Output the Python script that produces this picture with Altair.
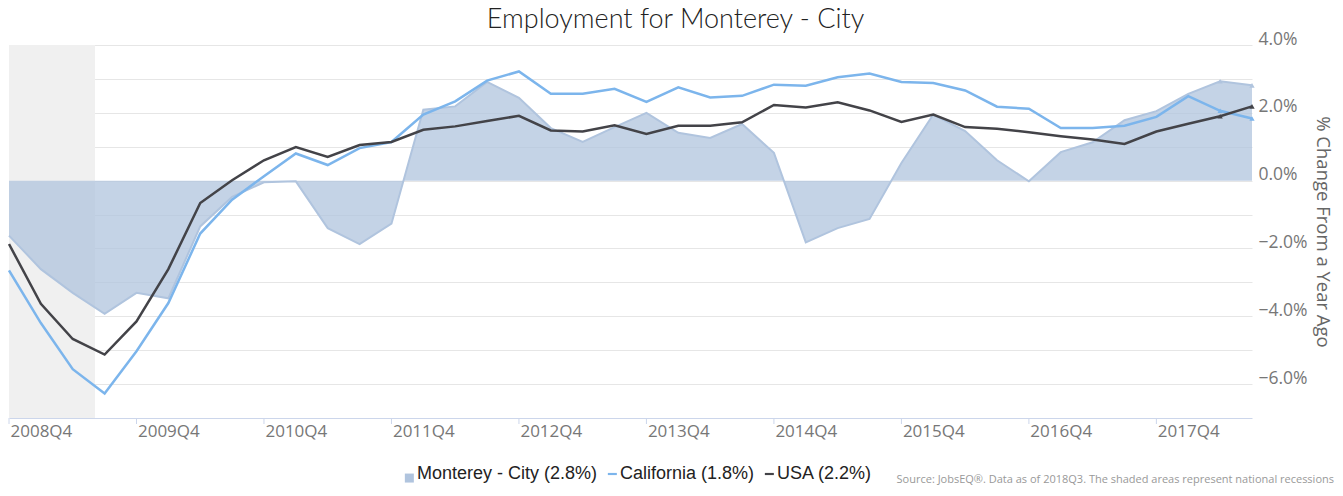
import altair as alt
import pandas as pd

# ---------------- data ----------------
quarters = [
    "2008Q3", "2008Q4", "2009Q1", "2009Q2", "2009Q3", "2009Q4", "2010Q1", "2010Q2",
    "2010Q3", "2010Q4", "2011Q1", "2011Q2", "2011Q3", "2011Q4", "2012Q1", "2012Q2",
    "2012Q3", "2012Q4", "2013Q1", "2013Q2", "2013Q3", "2013Q4", "2014Q1", "2014Q2",
    "2014Q3", "2014Q4", "2015Q1", "2015Q2", "2015Q3", "2015Q4", "2016Q1", "2016Q2",
    "2016Q3", "2016Q4", "2017Q1", "2017Q2", "2017Q3", "2017Q4", "2018Q1", "2018Q2",
]

monterey = [
    -1.62, -2.61, -3.31, -3.93, -3.31, -3.47, -1.35, -0.48, -0.05, -0.02,
    -1.40, -1.87, -1.27, 2.09, 2.19, 2.91, 2.44, 1.55, 1.14, 1.58,
    2.00, 1.41, 1.26, 1.67, 0.82, -1.82, -1.40, -1.13, 0.52, 1.95,
    1.46, 0.60, -0.02, 0.84, 1.13, 1.78, 2.05, 2.56, 2.93, 2.81,
]
california = [
    -2.65, -4.20, -5.56, -6.28, -5.03, -3.61, -1.56, -0.56, 0.13, 0.80,
    0.46, 0.96, 1.14, 1.95, 2.34, 2.95, 3.22, 2.56, 2.56, 2.71,
    2.32, 2.75, 2.45, 2.50, 2.83, 2.80, 3.05, 3.16, 2.91, 2.88,
    2.66, 2.18, 2.12, 1.55, 1.55, 1.62, 1.88, 2.49, 2.06, 1.83,
]
usa = [
    -1.87, -3.63, -4.67, -5.13, -4.15, -2.61, -0.66, 0.01, 0.60, 0.99,
    0.70, 1.05, 1.14, 1.50, 1.60, 1.76, 1.91, 1.48, 1.45, 1.63,
    1.38, 1.62, 1.62, 1.72, 2.23, 2.16, 2.31, 2.07, 1.73, 1.95,
    1.58, 1.53, 1.43, 1.31, 1.21, 1.08, 1.45, 1.68, 1.90, 2.19,
]

series_names = ["Monterey - City", "California", "USA"]
series_colors = ["#B0C4DE", "#7CB5EC", "#434348"]
recession = {"start": [0.0], "end": [2.7]}   # in quarter-index units
title_text = "Employment for Monterey - City"
y_title = "% Change From a Year Ago"
source_text = "Source: JobsEQ\u00ae. Data as of 2018Q3. The shaded areas represent national recessions"

# ---------------- build tables ----------------
labels = [f"{n} ({v[-1]:.1f}%)" for n, v in zip(series_names, [monterey, california, usa])]
rows = []
for lab, vals in zip(labels, [monterey, california, usa]):
    for i, v in enumerate(vals):
        rows.append({"idx": i, "q": quarters[i], "series": lab, "value": v})
df = pd.DataFrame(rows)
df_area = df[df.series == labels[0]]
df_lines = df[df.series != labels[0]]
df_last = df[df.idx >= len(quarters) - 2]

tick_idx = [i for i, q in enumerate(quarters) if q.endswith("Q3")]
label_idx = [i for i, q in enumerate(quarters) if q.endswith("Q4")]
df_ticks = pd.DataFrame({"idx": tick_idx})
df_rec = pd.DataFrame(recession)

W, H = 1243, 373
label_lookup = "[" + ",".join(f"'{q}'" for q in quarters) + "][datum.value]"

x_scale = alt.Scale(domain=[0, len(quarters) - 1], nice=False, zero=False)
y_scale = alt.Scale(domain=[-7, 4], nice=False)

x_axis = alt.Axis(
    values=label_idx, labelExpr=label_lookup, ticks=False, grid=False,
    domainColor="#ccd6eb", domainWidth=1, labelColor="#777777",
    labelFont="Open Sans", labelFontSize=17, labelPadding=5, title=None,
    labelFlush=False,
)
y_axis = alt.Axis(
    orient="right", values=list(range(-6, 5)),
    labelExpr="datum.value % 2 == 0 ? format(datum.value, '.1f') + '%' : ''",
    grid=True, gridColor="#e6e6e6", gridWidth=1, ticks=False, domain=False,
    labelAlign="left", labelPadding=6, labelBaseline="alphabetic", labelOffset=-1,
    labelColor="#777777", labelFont="Open Sans", labelFontSize=17.5,
    title=y_title, titleAngle=90, titleX=70, titleY=H / 2, titleBaseline="middle",
    titleAlign="center", titleFont="Open Sans", titleFontSize=18.5,
    titleFontWeight="normal", titleColor="#666666",
)
x_enc = alt.X("idx:Q", scale=x_scale, axis=x_axis)
y_enc = alt.Y("value:Q", scale=y_scale, axis=y_axis, stack=None)

line_shape = "M-0.7,-0.24H1.3V0.24H-0.7Z"
square_shape = "M-0.7,-0.1H1.3V1.9H-0.7Z"
color_scale = alt.Scale(domain=labels, range=series_colors)
shape_scale = alt.Scale(domain=labels, range=[square_shape, line_shape, line_shape])
legend_spec = alt.Legend(
    title=None, orient="none", direction="horizontal", legendX=390, legendY=420,
    labelFont="Liberation Sans", labelFontSize=18, labelColor="#222222",
    symbolSize=81, labelOffset=0, columnPadding=4, padding=0, labelLimit=0,
    symbolStrokeWidth=0, symbolOpacity=1,
)
color_plain = alt.Color("series:N", scale=color_scale)

rec_layer = alt.Chart(df_rec).mark_rect(color="#f0f0f0").encode(
    x=alt.X("start:Q", scale=x_scale), x2="end:Q", y=alt.value(0), y2=alt.value(H)
)

# invisible layer that only carries the legend (first colour layer, so its legend wins)
legend_layer = alt.Chart(df).transform_filter("false").mark_point(
    filled=True, opacity=1
).encode(
    x=x_enc, y=y_enc,
    color=alt.Color("series:N", scale=color_scale, legend=legend_spec),
    shape=alt.Shape("series:N", scale=shape_scale, legend=legend_spec),
)

area_layer = alt.Chart(df_area).mark_area(
    fillOpacity=0.75, line={"strokeWidth": 2}
).encode(x=x_enc, y=y_enc, color=color_plain)

line_layer = alt.Chart(df_lines).mark_line(strokeWidth=2.5).encode(
    x=x_enc, y=y_enc, color=color_plain, detail="series:N"
)

marker_layer = alt.Chart(df_last).mark_point(
    shape="triangle-up", filled=True, size=28, opacity=1
).encode(x=x_enc, y=y_enc, color=color_plain)

tick_layer = alt.Chart(df_ticks).mark_rule(color="#ccd6eb").encode(
    x=alt.X("idx:Q", scale=x_scale), y=alt.value(H), y2=alt.value(H + 6)
)

source_layer = alt.Chart(pd.DataFrame({"t": [source_text]})).mark_text(
    align="right", baseline="bottom", font="Open Sans", fontSize=11, color="#999999"
).encode(text="t:N", x=alt.value(W + 82), y=alt.value(440))

chart = alt.layer(
    rec_layer, legend_layer, area_layer, line_layer, marker_layer, tick_layer, source_layer
).properties(
    width=W, height=H,
    title=alt.TitleParams(
        title_text, anchor="middle", font="Lato", fontSize=27, fontWeight=300,
        color="#222222", dx=45, dy=12, offset=8,
    ),
    autosize=alt.AutoSizeParams(type="none"),
    padding={"left": 1, "top": 37, "right": 83, "bottom": 68},
).configure_view(stroke=None)

chart.save("out.html", embed_options={"renderer": "svg", "actions": False})
